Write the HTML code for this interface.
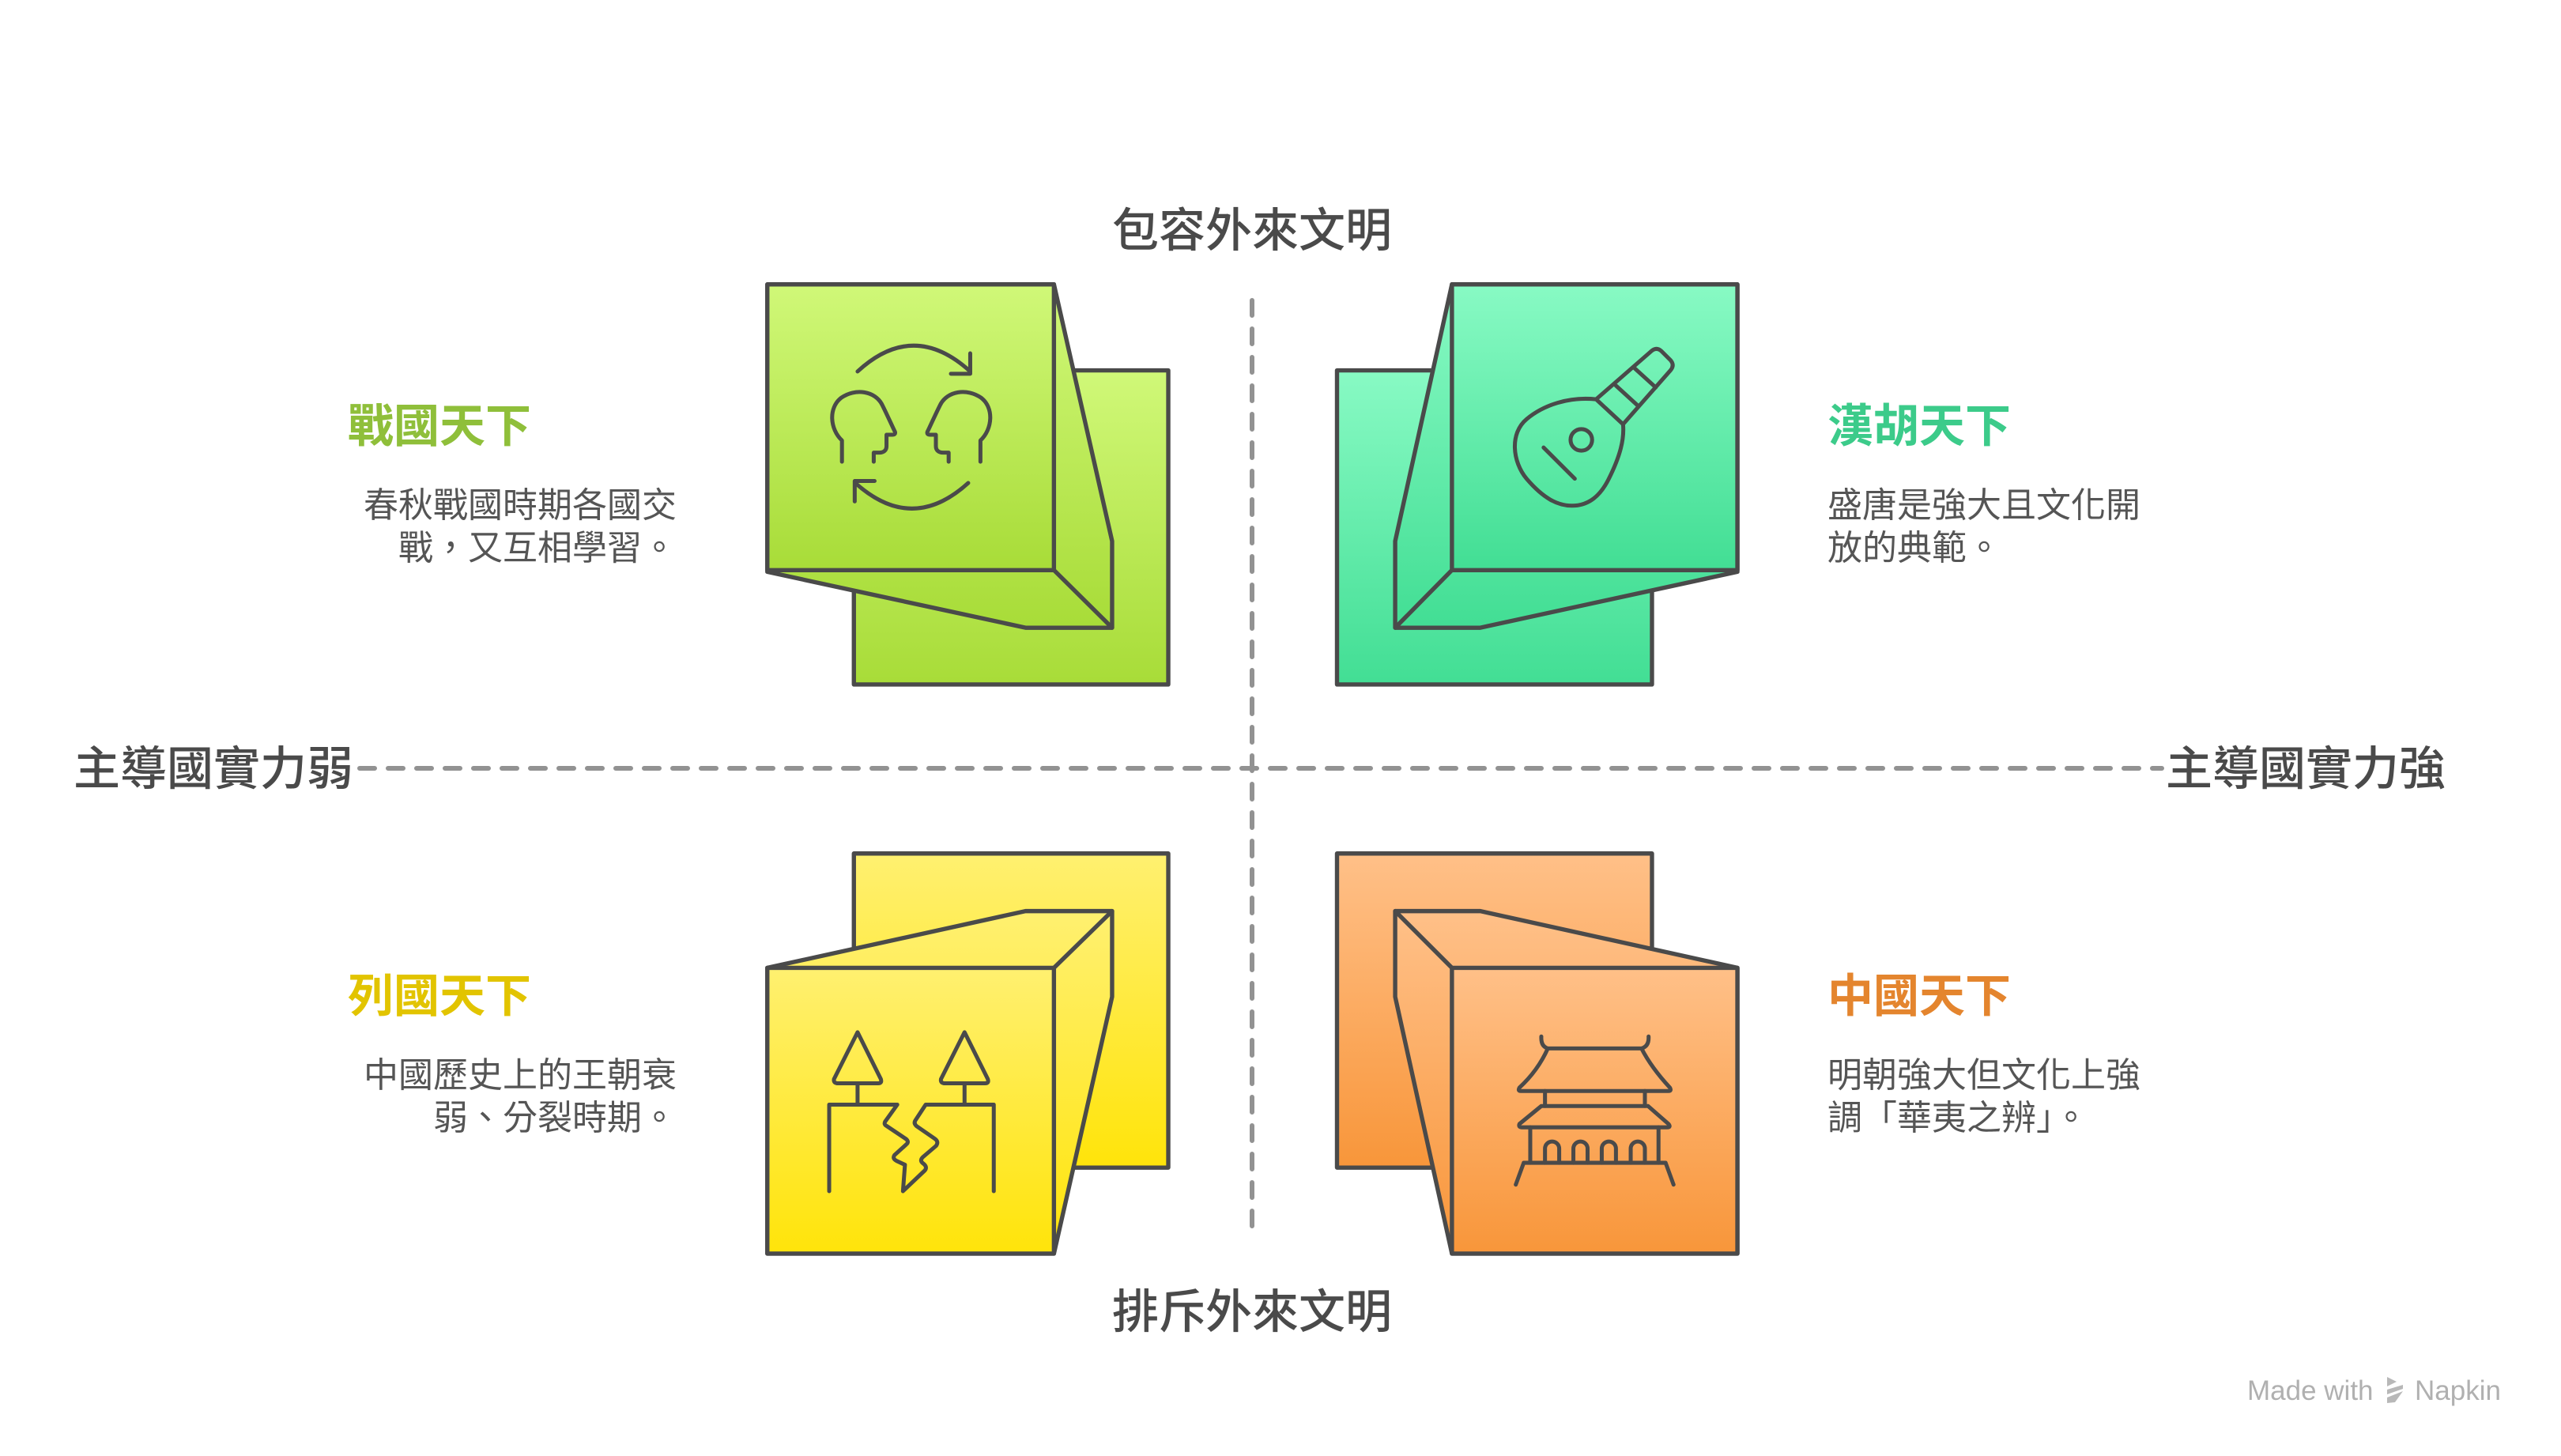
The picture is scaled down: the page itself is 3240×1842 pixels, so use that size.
<!DOCTYPE html>
<html><head><meta charset="utf-8">
<style>
html,body{margin:0;padding:0;background:#fff;}
svg{display:block;}
text{font-family:"Liberation Sans","Noto Sans CJK TC",sans-serif;}
</style></head>
<body>
<svg width="3240" height="1842" viewBox="0 0 3240 1842" xmlns="http://www.w3.org/2000/svg">
<defs>
<linearGradient id="gG" x1="0" y1="0" x2="0" y2="1"><stop offset="0" stop-color="#d0f878"/><stop offset="1" stop-color="#a8dc38"/></linearGradient>
<linearGradient id="gT" x1="0" y1="0" x2="0" y2="1"><stop offset="0" stop-color="#88fac4"/><stop offset="1" stop-color="#42de94"/></linearGradient>
<linearGradient id="gY" x1="0" y1="0" x2="0" y2="1"><stop offset="0" stop-color="#fff070"/><stop offset="1" stop-color="#ffe40a"/></linearGradient>
<linearGradient id="gO" x1="0" y1="0" x2="0" y2="1"><stop offset="0" stop-color="#ffc088"/><stop offset="1" stop-color="#f8963a"/></linearGradient>
</defs>

<!-- dashed axes -->
<g stroke="#929292" stroke-width="6" stroke-linecap="round" stroke-dasharray="19 17" fill="none">
<line x1="455" y1="972" x2="2735" y2="972"/>
<line x1="1584" y1="380" x2="1584" y2="1566"/>
</g>

<g stroke="#4a4a4a" stroke-width="15" stroke-linejoin="round" stroke-linecap="round">
<!-- TL -->
<g transform="translate(960,340) scale(0.359)">
<rect x="335" y="358" width="1108" height="1107" fill="url(#gG)"/>
<polygon points="30,55 1040,55 1245,960 1245,1265 940,1265 30,1068" fill="url(#gG)"/>
<rect x="30" y="55" width="1010" height="1007" fill="url(#gG)"/>
<line x1="1040" y1="1062" x2="1245" y2="1265"/>
<g fill="none" stroke-width="14">
<path d="M348,362 Q545,180 745,362"/><path d="M745,298 L745,370 L677,370"/>
<path d="M738,755 Q540,935 340,755"/><path d="M338,820 L338,748 L408,748"/>
<path d="M293,680 V605 C250,565 245,490 290,455 C340,420 410,430 435,480 C455,520 470,555 480,575 C482,582 478,585 470,585 L450,585 V625 C450,640 440,648 425,648 L405,648 V680"/>
<path d="M781,680 V605 C824,565 829,490 784,455 C734,420 664,430 639,480 C619,520 604,555 594,575 C592,582 596,585 604,585 L624,585 V625 C624,640 634,648 649,648 L669,648 V680"/>
</g>
</g>
<!-- TR -->
<g transform="translate(1680,340) scale(0.359)">
<rect x="32" y="358" width="1110" height="1107" fill="url(#gT)"/>
<polygon points="437,55 1443,55 1443,1068 537,1265 237,1265 237,960" fill="url(#gT)"/>
<rect x="437" y="55" width="1006" height="1007" fill="url(#gT)"/>
<line x1="437" y1="1062" x2="237" y2="1265"/>
<g fill="none" stroke-width="14">
<path d="M945,460 C850,450 760,480 700,530 C640,580 650,680 700,740 C760,810 810,835 860,835 C920,835 960,800 990,740 C1030,660 1045,600 1040,548 Z"/>
<path d="M945,460 L1140,290 Q1158,275 1175,290 L1208,323 Q1222,340 1208,357 L1040,548"/>
<line x1="1015" y1="412" x2="1095" y2="485"/><line x1="1080" y1="350" x2="1155" y2="418"/>
<circle cx="893" cy="603" r="38"/><line x1="760" y1="630" x2="870" y2="740"/>
</g>
</g>
<!-- BL -->
<g transform="translate(960,1060) scale(0.359)">
<rect x="335" y="55" width="1108" height="1107" fill="url(#gY)"/>
<polygon points="30,458 940,258 1245,258 1245,560 1040,1465 30,1465" fill="url(#gY)"/>
<rect x="30" y="458" width="1010" height="1007" fill="url(#gY)"/>
<line x1="1040" y1="458" x2="1245" y2="258"/>
<g fill="none" stroke-width="14">
<path d="M348,685 L265,850 Q262,865 280,865 L420,865 Q435,865 430,850 Z"/>
<path d="M725,685 L642,850 Q639,865 657,865 L797,865 Q812,865 807,850 Z"/>
<line x1="348" y1="865" x2="348" y2="938"/><line x1="725" y1="865" x2="725" y2="938"/>
<path d="M248,1245 V940 H488 L445,1000 Q440,1010 450,1015 L520,1062 Q530,1072 520,1080 L478,1118 Q470,1130 485,1138 L515,1152 L508,1245 L585,1172 Q595,1160 580,1148 Q565,1138 578,1125 L625,1085 Q635,1070 620,1060 L555,1015 Q545,1005 552,995 L588,940 H828 V1245"/>
</g>
</g>
<!-- BR -->
<g transform="translate(1680,1060) scale(0.359)">
<rect x="32" y="55" width="1110" height="1107" fill="url(#gO)"/>
<polygon points="237,258 537,258 1443,458 1443,1465 437,1465 237,560" fill="url(#gO)"/>
<rect x="437" y="458" width="1006" height="1007" fill="url(#gO)"/>
<line x1="237" y1="258" x2="437" y2="458"/>
<g fill="none" stroke-width="14">
<path d="M752,700 Q750,735 775,742 L1105,742 Q1132,735 1130,700"/>
<path d="M775,742 Q740,820 675,880 Q668,892 680,892 L1200,892 Q1212,892 1205,880 Q1140,810 1105,742"/>
<line x1="765" y1="892" x2="765" y2="945"/><line x1="1117" y1="892" x2="1117" y2="945"/>
<path d="M752,945 L1128,945 L1200,1008 Q1210,1020 1195,1020 L685,1020 Q670,1020 675,1008 Z"/>
<line x1="713" y1="1020" x2="713" y2="1145"/><line x1="1165" y1="1020" x2="1165" y2="1145"/>
<path d="M662,1222 L690,1145 L1190,1145 L1218,1222"/>
<path d="M765,1145 V1095 A25,25 0 0 1 815,1095 V1145"/>
<path d="M865,1145 V1095 A25,25 0 0 1 915,1095 V1145"/>
<path d="M965,1145 V1095 A25,25 0 0 1 1015,1095 V1145"/>
<path d="M1067,1145 V1095 A25,25 0 0 1 1117,1095 V1145"/>
</g>
</g>
</g>

<!-- axis labels -->
<g fill="#4a4a4a" font-size="59" font-weight="500">
<text x="1584" y="312" text-anchor="middle">包容外來文明</text>
<text x="1584" y="1680" text-anchor="middle">排斥外來文明</text>
<text x="93" y="993">主導國實力弱</text>
<text x="2740" y="993">主導國實力強</text>
</g>

<!-- quadrant titles -->
<g font-size="58" font-weight="700">
<text x="440" y="559" fill="#8fbf3a">戰國天下</text>
<text x="2312" y="559" fill="#3ccb8a">漢胡天下</text>
<text x="440" y="1280" fill="#e2c400">列國天下</text>
<text x="2312" y="1280" fill="#e4852e">中國天下</text>
</g>
<g font-size="44" fill="#555">
<text x="856" y="654" text-anchor="end">春秋戰國時期各國交</text>
<text x="856" y="708" text-anchor="end">戰，又互相學習。</text>
<text x="2312" y="654">盛唐是強大且文化開</text>
<text x="2312" y="708">放的典範。</text>
<text x="856" y="1375" text-anchor="end">中國歷史上的王朝衰</text>
<text x="856" y="1429" text-anchor="end">弱、分裂時期。</text>
<text x="2312" y="1375">明朝強大但文化上強</text>
<text x="2312" y="1429">調「華夷之辨」。</text>
</g>

<!-- watermark -->
<text x="2843" y="1771" font-size="35" fill="#b0b0b0">Made with</text>
<g fill="#b8b8b8" transform="translate(3020,1742)">
<polygon points="0,0 12,6 0,12"/><polygon points="0,16 20,10 20,15 0,22"/><polygon points="0,26 20,18 10,32 0,33"/>
</g>
<text x="3055" y="1771" font-size="35" fill="#b0b0b0">Napkin</text>
</svg>
</body></html>
